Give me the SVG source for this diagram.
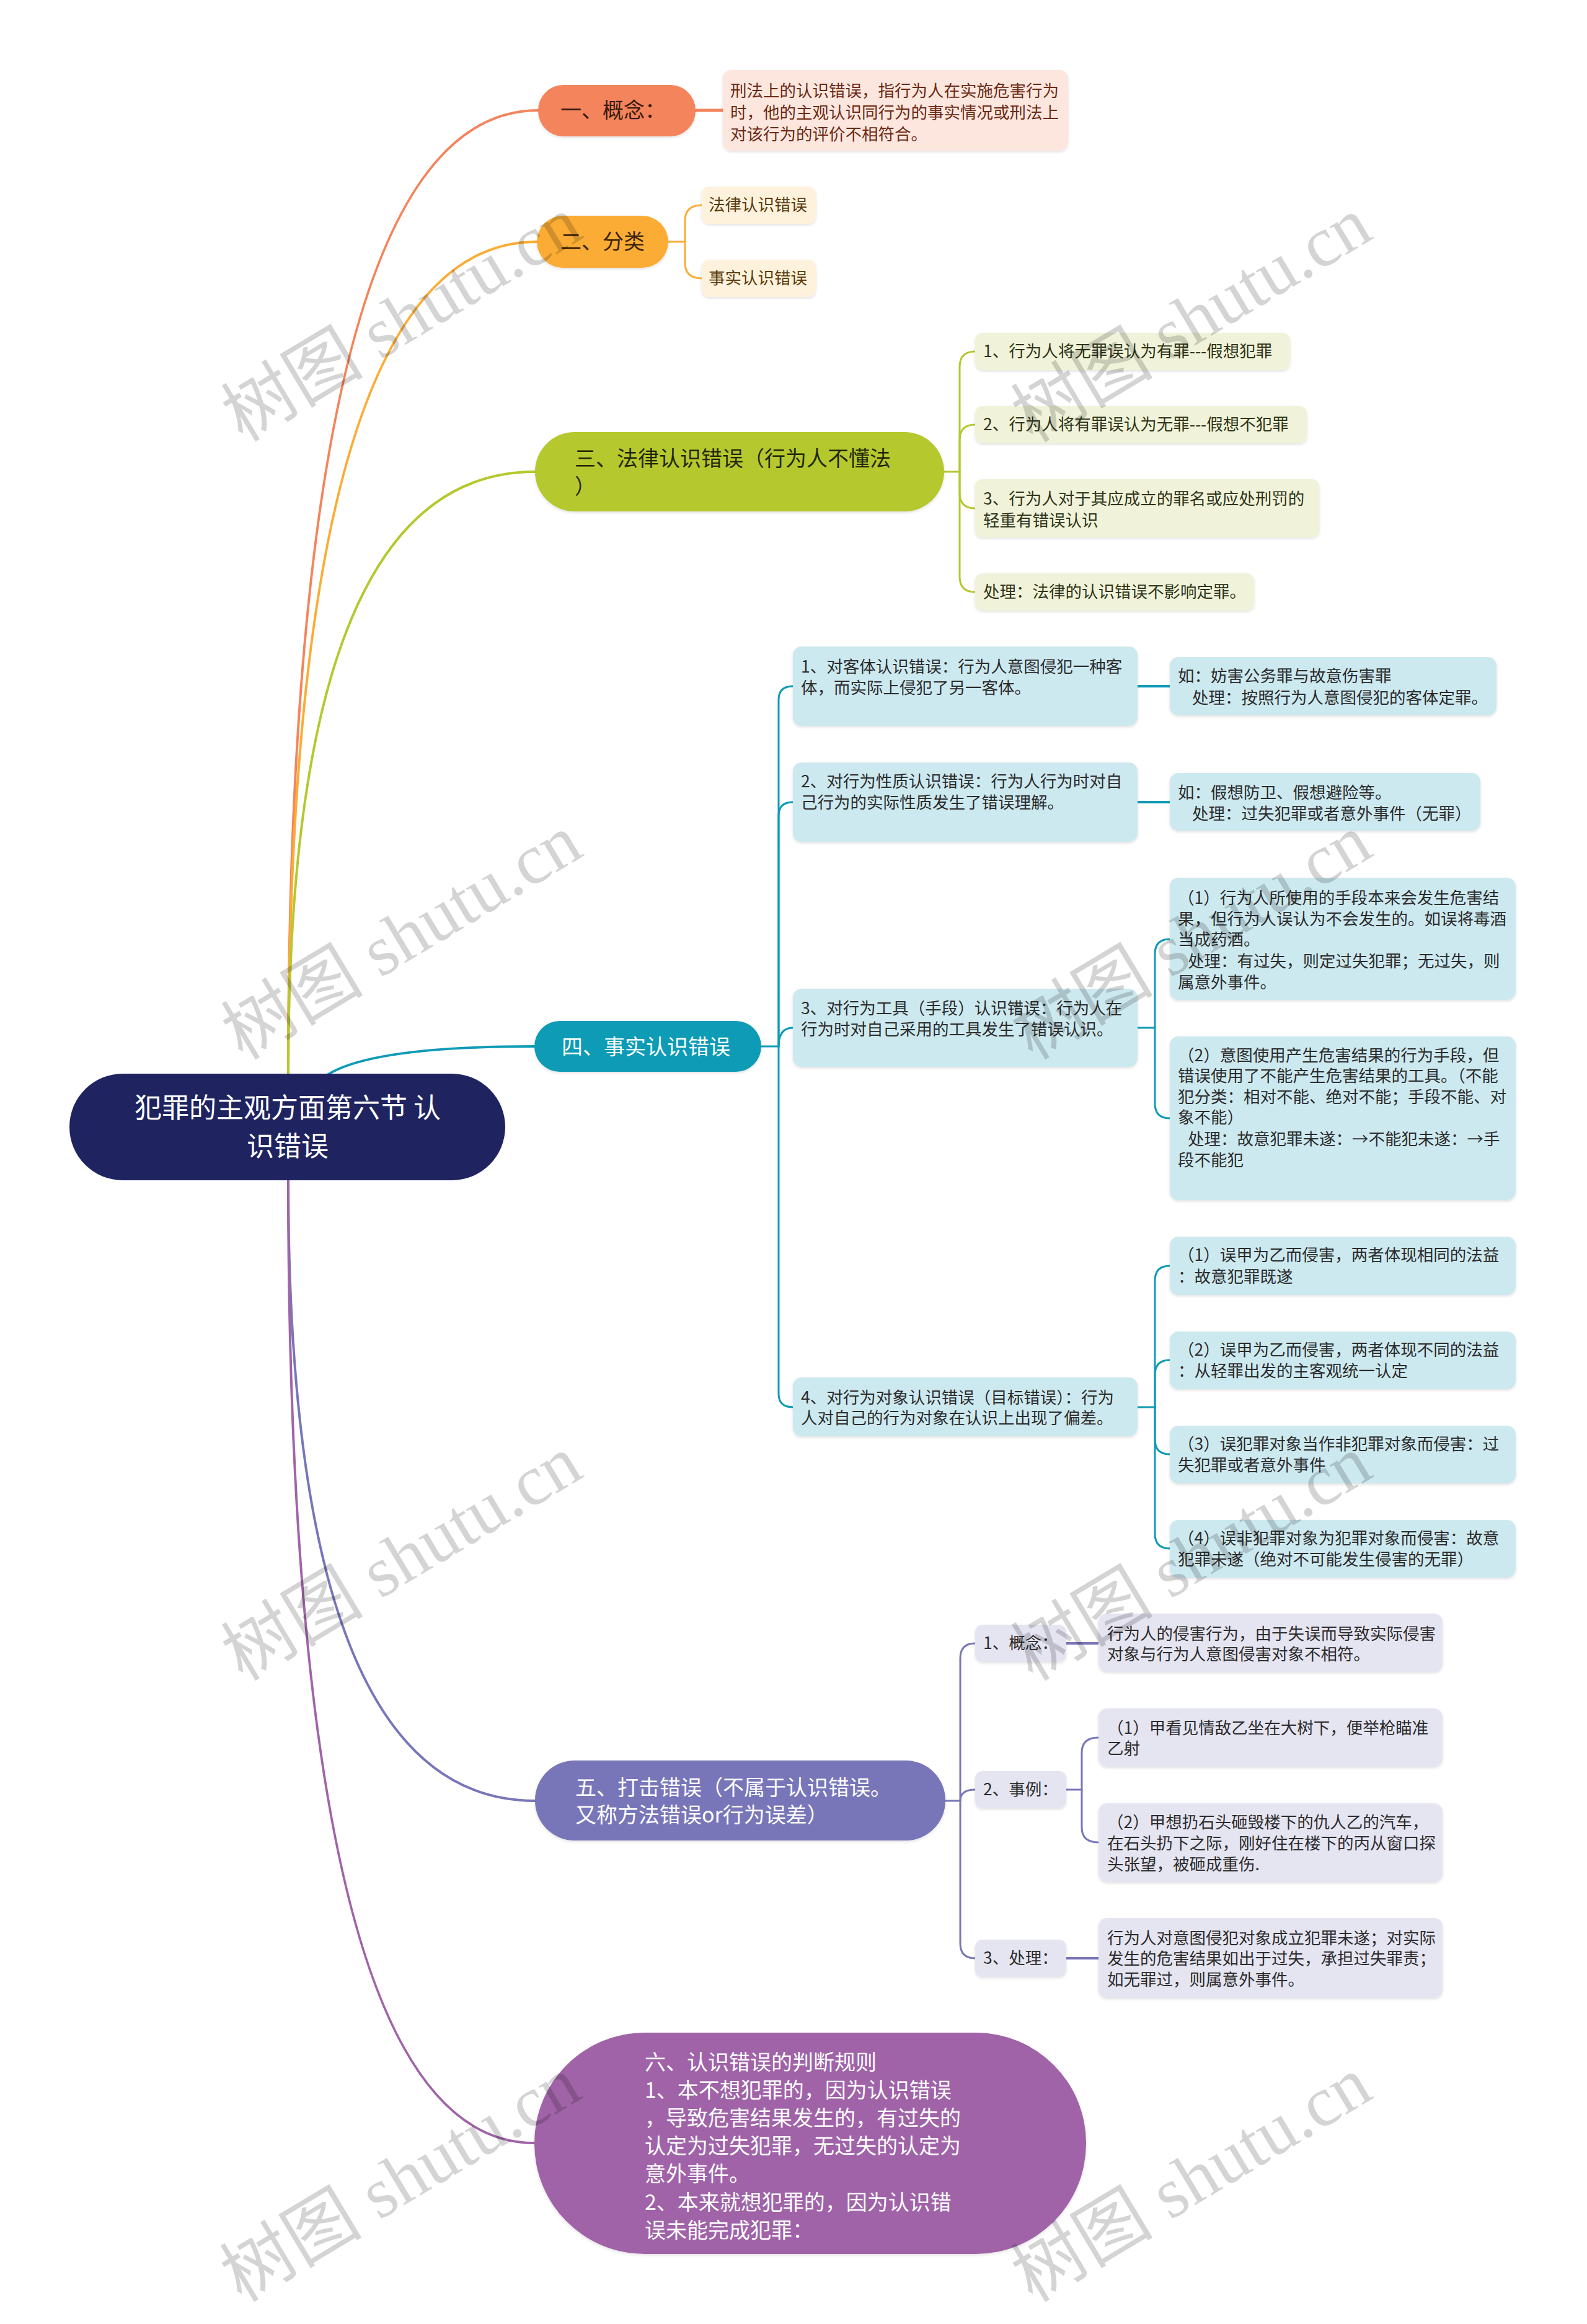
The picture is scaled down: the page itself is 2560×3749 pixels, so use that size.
<svg xmlns="http://www.w3.org/2000/svg" width="2560" height="3749" viewBox="0 0 2560 3749">
<style>
text{font-family:"Noto Sans CJK SC","Noto Sans",sans-serif;}
.m{font-size:34px;}
.r{font-size:44px;fill:#ffffff;}
.l{font-size:26.5px;}
.w{fill:#ffffff;}
.dk{fill:#2b2b2b;}
.br{fill:#6b2a14;}
.bo{fill:#5a3a0c;}
.gr{fill:#2f3318;}
.lk{stroke-linecap:round;fill:none;}
.wm{font-size:115px;fill:#000000;fill-opacity:0.17;font-family:"Liberation Serif","Noto Sans CJK SC",serif;}
</style>
<defs>
<filter id="sh" x="-5%" y="-5%" width="110%" height="120%"><feDropShadow dx="0" dy="2" stdDeviation="2" flood-color="#000" flood-opacity="0.12"/></filter>
</defs>
<rect width="2560" height="3749" fill="#ffffff"/>
<g id="connectors" class="lk">
<path d="M465,1733 Q465,178 868,178" stroke="#f4845b" stroke-width="4"/>
<path d="M465,1733 Q465,390 866,390" stroke="#fbac36" stroke-width="4"/>
<path d="M465,1733 Q465,761 863,761" stroke="#b5c82e" stroke-width="4"/>
<path d="M528,1734 Q600,1688 862,1688" stroke="#0f9bb6" stroke-width="4"/>
<path d="M465,1903 Q465,2905 863,2905" stroke="#7876b9" stroke-width="4"/>
<path d="M465,1903 Q465,3457 862,3457" stroke="#a064a8" stroke-width="4"/>
<path d="M1122,178 H1166" stroke="#f4845b" stroke-width="5"/>
<g stroke="#fbac36" stroke-width="3">
<path d="M1078,390 H1105"/>
<path d="M1105,390 V356 Q1105,331 1132,331"/>
<path d="M1105,390 V424 Q1105,449 1132,449"/>
</g>
<g stroke="#b5c82e" stroke-width="3">
<path d="M1523,761 H1548"/>
<path d="M1548,761 V592 Q1548,567 1573,567"/>
<path d="M1548,761 V710 Q1548,685 1573,685"/>
<path d="M1548,761 V795 Q1548,820 1573,820"/>
<path d="M1548,761 V930 Q1548,955 1573,955"/>
</g>
<g stroke="#0f9bb6" stroke-width="3">
<path d="M1228,1688 H1256"/>
<path d="M1256,1688 V1129 Q1256,1107 1279,1107"/>
<path d="M1256,1688 V1316 Q1256,1294 1279,1294"/>
<path d="M1256,1688 Q1256,1658 1279,1658"/>
<path d="M1256,1688 V2248 Q1256,2270 1279,2270"/>
<path d="M1835,1107 H1887" stroke-width="4"/>
<path d="M1835,1294 H1887" stroke-width="4"/>
<path d="M1835,1658 H1863"/>
<path d="M1863,1658 V1539 Q1863,1515 1887,1515"/>
<path d="M1863,1658 V1780 Q1863,1804 1887,1804"/>
<path d="M1835,2270 H1863"/>
<path d="M1863,2270 V2066 Q1863,2042 1887,2042"/>
<path d="M1863,2270 V2218 Q1863,2194 1887,2194"/>
<path d="M1863,2270 V2322 Q1863,2346 1887,2346"/>
<path d="M1863,2270 V2474 Q1863,2498 1887,2498"/>
</g>
<g stroke="#7876b9" stroke-width="3">
<path d="M1525,2905 H1549"/>
<path d="M1549,2905 V2675 Q1549,2651 1573,2651"/>
<path d="M1549,2905 Q1549,2887 1573,2887"/>
<path d="M1549,2905 V3135 Q1549,3159 1573,3159"/>
<path d="M1720,2651 H1772" stroke-width="4"/>
<path d="M1720,2887 H1745"/>
<path d="M1745,2887 V2827 Q1745,2803 1772,2803"/>
<path d="M1745,2887 V2948 Q1745,2972 1772,2972"/>
<path d="M1720,3159 H1772" stroke-width="4"/>
</g>
</g>
<g id="root"><rect x="112" y="1732" width="703" height="172" rx="86" fill="#1f2460"/>
<text class="r" x="464" y="1803" text-anchor="middle">犯罪的主观方面第六节 认</text>
<text class="r" x="464" y="1865" text-anchor="middle">识错误</text></g>

<g id="n1"><rect x="868" y="137" width="254" height="83" rx="41" fill="#f4845b" filter="url(#sh)"/>
<text class="m" x="904" y="190" fill="#3a1a0a">一、概念：</text></g>
<g id="n1d"><rect x="1166" y="113" width="557" height="130" rx="14" fill="#fde6de" filter="url(#sh)"/>
<text class="l br" x="1178" y="156">刑法上的认识错误，指行为人在实施危害行为</text>
<text class="l br" x="1178" y="191">时，他的主观认识同行为的事实情况或刑法上</text>
<text class="l br" x="1178" y="226">对该行为的评价不相符合。</text></g>

<g id="n2"><rect x="866" y="348" width="212" height="84" rx="42" fill="#fbac36" filter="url(#sh)"/>
<text class="m" x="904" y="402" fill="#3a2406">二、分类</text></g>
<g id="n2a"><rect x="1132" y="301" width="184" height="60" rx="12" fill="#fef2dc" filter="url(#sh)"/>
<text class="l bo" x="1143" y="340">法律认识错误</text></g>
<g id="n2b"><rect x="1132" y="419" width="184" height="60" rx="12" fill="#fef2dc" filter="url(#sh)"/>
<text class="l bo" x="1143" y="458">事实认识错误</text></g>

<g id="n3"><rect x="863" y="697" width="660" height="128" rx="64" fill="#b5c82e" filter="url(#sh)"/>
<text class="m" x="927" y="752" fill="#23270a">三、法律认识错误（行为人不懂法</text>
<text class="m" x="927" y="797" fill="#23270a">）</text></g>
<g id="n3a"><rect x="1573" y="537" width="508" height="60" rx="12" fill="#f0f3d9" filter="url(#sh)"/>
<text class="l gr" x="1586" y="576">1、行为人将无罪误认为有罪---假想犯罪</text></g>
<g id="n3b"><rect x="1573" y="655" width="535" height="60" rx="12" fill="#f0f3d9" filter="url(#sh)"/>
<text class="l gr" x="1586" y="694">2、行为人将有罪误认为无罪---假想不犯罪</text></g>
<g id="n3c"><rect x="1573" y="773" width="555" height="94" rx="12" fill="#f0f3d9" filter="url(#sh)"/>
<text class="l gr" x="1586" y="814">3、行为人对于其应成立的罪名或应处刑罚的</text>
<text class="l gr" x="1586" y="849">轻重有错误认识</text></g>
<g id="n3d"><rect x="1573" y="925" width="450" height="60" rx="12" fill="#f0f3d9" filter="url(#sh)"/>
<text class="l gr" x="1586" y="964">处理：法律的认识错误不影响定罪。</text></g>

<g id="n4"><rect x="862" y="1647" width="366" height="82" rx="41" fill="#0f9bb6" filter="url(#sh)"/>
<text class="m w" x="906" y="1701">四、事实认识错误</text></g>
<g id="c1"><rect x="1279" y="1043" width="556" height="128" rx="14" fill="#cde9f0" filter="url(#sh)"/>
<text class="l dk" x="1292" y="1085">1、对客体认识错误：行为人意图侵犯一种客</text>
<text class="l dk" x="1292" y="1119">体，而实际上侵犯了另一客体。</text></g>
<g id="c1l"><rect x="1887" y="1060" width="527" height="94" rx="14" fill="#cde9f0" filter="url(#sh)"/>
<text class="l dk" x="1900" y="1100">如：妨害公务罪与故意伤害罪</text>
<text class="l dk" x="1923" y="1135">处理：按照行为人意图侵犯的客体定罪。</text></g>
<g id="c2"><rect x="1279" y="1230" width="556" height="128" rx="14" fill="#cde9f0" filter="url(#sh)"/>
<text class="l dk" x="1292" y="1270">2、对行为性质认识错误：行为人行为时对自</text>
<text class="l dk" x="1292" y="1304">己行为的实际性质发生了错误理解。</text></g>
<g id="c2l"><rect x="1887" y="1247" width="501" height="93" rx="14" fill="#cde9f0" filter="url(#sh)"/>
<text class="l dk" x="1900" y="1288">如：假想防卫、假想避险等。</text>
<text class="l dk" x="1923" y="1322">处理：过失犯罪或者意外事件（无罪）</text></g>
<g id="c3"><rect x="1279" y="1595" width="556" height="126" rx="14" fill="#cde9f0" filter="url(#sh)"/>
<text class="l dk" x="1292" y="1636">3、对行为工具（手段）认识错误：行为人在</text>
<text class="l dk" x="1292" y="1670">行为时对自己采用的工具发生了错误认识。</text></g>
<g id="c3a"><rect x="1887" y="1416" width="558" height="197" rx="14" fill="#cde9f0" filter="url(#sh)"/>
<text class="l dk" x="1900" y="1458">（1）行为人所使用的手段本来会发生危害结</text>
<text class="l dk" x="1900" y="1492">果，但行为人误认为不会发生的。如误将毒酒</text>
<text class="l dk" x="1900" y="1525">当成药酒。</text>
<text class="l dk" x="1916" y="1560">处理：有过失，则定过失犯罪；无过失，则</text>
<text class="l dk" x="1900" y="1594">属意外事件。</text></g>
<g id="c3b"><rect x="1887" y="1672" width="558" height="264" rx="14" fill="#cde9f0" filter="url(#sh)"/>
<text class="l dk" x="1900" y="1712">（2）意图使用产生危害结果的行为手段，但</text>
<text class="l dk" x="1900" y="1745">错误使用了不能产生危害结果的工具。（不能</text>
<text class="l dk" x="1900" y="1779">犯分类：相对不能、绝对不能；手段不能、对</text>
<text class="l dk" x="1900" y="1812">象不能）</text>
<text class="l dk" x="1916" y="1847">处理：故意犯罪未遂：→不能犯未遂：→手</text>
<text class="l dk" x="1900" y="1881">段不能犯</text></g>
<g id="c4"><rect x="1279" y="2222" width="556" height="95" rx="14" fill="#cde9f0" filter="url(#sh)"/>
<text class="l dk" x="1292" y="2264">4、对行为对象认识错误（目标错误）：行为</text>
<text class="l dk" x="1292" y="2297">人对自己的行为对象在认识上出现了偏差。</text></g>
<g id="c4a"><rect x="1887" y="1995" width="558" height="94" rx="14" fill="#cde9f0" filter="url(#sh)"/>
<text class="l dk" x="1900" y="2034">（1）误甲为乙而侵害，两者体现相同的法益</text>
<text class="l dk" x="1900" y="2069">：故意犯罪既遂</text></g>
<g id="c4b"><rect x="1887" y="2148" width="558" height="93" rx="14" fill="#cde9f0" filter="url(#sh)"/>
<text class="l dk" x="1900" y="2187">（2）误甲为乙而侵害，两者体现不同的法益</text>
<text class="l dk" x="1900" y="2221">：从轻罪出发的主客观统一认定</text></g>
<g id="c4c"><rect x="1887" y="2300" width="558" height="93" rx="14" fill="#cde9f0" filter="url(#sh)"/>
<text class="l dk" x="1900" y="2339">（3）误犯罪对象当作非犯罪对象而侵害：过</text>
<text class="l dk" x="1900" y="2373">失犯罪或者意外事件</text></g>
<g id="c4d"><rect x="1887" y="2452" width="558" height="93" rx="14" fill="#cde9f0" filter="url(#sh)"/>
<text class="l dk" x="1900" y="2491">（4）误非犯罪对象为犯罪对象而侵害：故意</text>
<text class="l dk" x="1900" y="2525">犯罪未遂（绝对不可能发生侵害的无罪）</text></g>

<g id="n5"><rect x="863" y="2840" width="662" height="129" rx="64" fill="#7876b9" filter="url(#sh)"/>
<text class="m w" x="928" y="2896">五、打击错误（不属于认识错误。</text>
<text class="m w" x="928" y="2940">又称方法错误or行为误差）</text></g>
<g id="n5a"><rect x="1573" y="2621" width="147" height="60" rx="12" fill="#e5e4f1" filter="url(#sh)"/>
<text class="l dk" x="1586" y="2660">1、概念：</text></g>
<g id="n5al"><rect x="1772" y="2603" width="555" height="94" rx="14" fill="#e5e4f1" filter="url(#sh)"/>
<text class="l dk" x="1786" y="2645">行为人的侵害行为，由于失误而导致实际侵害</text>
<text class="l dk" x="1786" y="2678">对象与行为人意图侵害对象不相符。</text></g>
<g id="n5b"><rect x="1573" y="2857" width="147" height="60" rx="12" fill="#e5e4f1" filter="url(#sh)"/>
<text class="l dk" x="1586" y="2896">2、事例：</text></g>
<g id="n5b1"><rect x="1772" y="2756" width="555" height="94" rx="14" fill="#e5e4f1" filter="url(#sh)"/>
<text class="l dk" x="1786" y="2797">（1）甲看见情敌乙坐在大树下，便举枪瞄准</text>
<text class="l dk" x="1786" y="2830">乙射</text></g>
<g id="n5b2"><rect x="1772" y="2909" width="555" height="127" rx="14" fill="#e5e4f1" filter="url(#sh)"/>
<text class="l dk" x="1786" y="2949">（2）甲想扔石头砸毁楼下的仇人乙的汽车，</text>
<text class="l dk" x="1786" y="2983">在石头扔下之际，刚好住在楼下的丙从窗口探</text>
<text class="l dk" x="1786" y="3017">头张望，被砸成重伤.</text></g>
<g id="n5c"><rect x="1573" y="3129" width="147" height="60" rx="12" fill="#e5e4f1" filter="url(#sh)"/>
<text class="l dk" x="1586" y="3168">3、处理：</text></g>
<g id="n5cl"><rect x="1772" y="3094" width="555" height="129" rx="14" fill="#e5e4f1" filter="url(#sh)"/>
<text class="l dk" x="1786" y="3136">行为人对意图侵犯对象成立犯罪未遂；对实际</text>
<text class="l dk" x="1786" y="3169">发生的危害结果如出于过失，承担过失罪责；</text>
<text class="l dk" x="1786" y="3203">如无罪过，则属意外事件。</text></g>

<g id="n6"><rect x="862" y="3279" width="890" height="357" rx="178" fill="#a064a8" filter="url(#sh)"/>
<text class="m w" x="1040" y="3339">六、认识错误的判断规则</text>
<text class="m w" x="1040" y="3384">1、本不想犯罪的，因为认识错误</text>
<text class="m w" x="1040" y="3429">，导致危害结果发生的，有过失的</text>
<text class="m w" x="1040" y="3474">认定为过失犯罪，无过失的认定为</text>
<text class="m w" x="1040" y="3519">意外事件。</text>
<text class="m w" x="1040" y="3565">2、本来就想犯罪的，因为认识错</text>
<text class="m w" x="1040" y="3610">误未能完成犯罪：</text></g>

<g id="watermarks">
<text class="wm" x="668" y="548" text-anchor="middle" transform="rotate(-31 668 548)">树图 shutu.cn</text>
<text class="wm" x="1942" y="549" text-anchor="middle" transform="rotate(-31 1942 549)">树图 shutu.cn</text>
<text class="wm" x="668" y="1545" text-anchor="middle" transform="rotate(-31 668 1545)">树图 shutu.cn</text>
<text class="wm" x="1942" y="1545" text-anchor="middle" transform="rotate(-31 1942 1545)">树图 shutu.cn</text>
<text class="wm" x="668" y="2547" text-anchor="middle" transform="rotate(-31 668 2547)">树图 shutu.cn</text>
<text class="wm" x="1942" y="2547" text-anchor="middle" transform="rotate(-31 1942 2547)">树图 shutu.cn</text>
<text class="wm" x="666" y="3549" text-anchor="middle" transform="rotate(-31 666 3549)">树图 shutu.cn</text>
<text class="wm" x="1942" y="3549" text-anchor="middle" transform="rotate(-31 1942 3549)">树图 shutu.cn</text>
</g>
</svg>
